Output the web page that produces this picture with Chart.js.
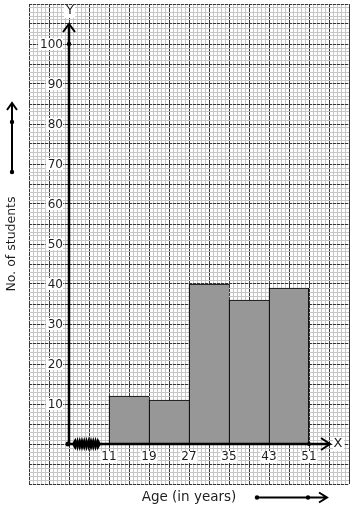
<!DOCTYPE html>
<html>
<head>
<meta charset="utf-8">
<script src="https://cdn.jsdelivr.net/npm/chart.js@4"></script>
<style>
  html, body { margin: 0; padding: 0; background: #fff; }
  #wrap { width: 354px; height: 510px; }
</style>
</head>
<body>
<div id="wrap"><canvas id="myChart"></canvas></div>
<script>
// data
const ageEdges = [11, 19, 27, 35, 43, 51];
const students = [12, 11, 40, 36, 39];
const yTickLabels = [10, 20, 30, 40, 50, 60, 70, 80, 90, 100];
const xTickLabels = [11, 19, 27, 35, 43, 51];

// graph paper range (axis units)
const X_MIN = -5, X_MAX = 59, X_ORIGIN = 3;
const Y_MIN = -10, Y_MAX = 110;

const FONT = "'DejaVu Sans', sans-serif";
const INK = "#1e1e1e";
const MINOR = "#c6c6c6";
const MAJOR = "#353535";

function paperTicks(min, max, step) {
  const out = [];
  const n = Math.round((max - min) / step);
  for (let i = 0; i <= n; i++) out.push({ value: min + i * step });
  return out;
}

// a hidden axis that only paints graph paper lines
function paperAxis(axis, min, max, step, color, dash) {
  return {
    axis: axis,
    position: axis === "x" ? "bottom" : "left",
    type: "linear",
    min: min,
    max: max,
    offset: false,
    afterBuildTicks: (s) => { s.ticks = paperTicks(min, max, step); },
    afterFit: (s) => { if (axis === "x") s.height = 0; else s.width = 0; },
    ticks: { display: false },
    border: { display: false, dash: dash || [] },
    grid: { offset: false, drawTicks: false, lineWidth: 1, color: color }
  };
}

// axes, arrows, zigzag and labels of the graph paper
const paperPlugin = {
  id: "paper",
  afterDatasetsDraw(chart) {
    const { ctx, chartArea: a, scales: { x, y } } = chart;
    const ox = x.getPixelForValue(X_ORIGIN);
    const oy = y.getPixelForValue(0);
    const yTip = y.getPixelForValue(105);
    const xTip = x.getPixelForValue(55.2);

    ctx.save();
    ctx.strokeStyle = "#000";
    ctx.fillStyle = "#000";
    ctx.lineWidth = 2.5;

    // Y axis
    ctx.beginPath();
    ctx.moveTo(ox, oy);
    ctx.lineTo(ox, yTip);
    ctx.stroke();
    // X axis
    ctx.beginPath();
    ctx.moveTo(ox, oy);
    ctx.lineTo(xTip, oy);
    ctx.stroke();

    // arrow heads
    ctx.lineWidth = 2;
    ctx.beginPath();
    ctx.moveTo(ox - 6, yTip + 8);
    ctx.lineTo(ox, yTip);
    ctx.lineTo(ox + 6, yTip + 8);
    ctx.moveTo(xTip - 9, oy - 6);
    ctx.lineTo(xTip, oy);
    ctx.lineTo(xTip - 9, oy + 6);
    ctx.stroke();

    // kink on x axis (two crossing zigzags)
    const z0 = ox + 4, z1 = ox + 31, teeth = 12;
    ctx.lineWidth = 1.8;
    [1, -1].forEach((sgn) => {
      ctx.beginPath();
      ctx.moveTo(z0, oy);
      for (let i = 1; i <= teeth; i++) {
        const zx = z0 + (z1 - z0) * i / teeth;
        ctx.lineTo(zx, i === teeth ? oy : oy + sgn * (i % 2 ? -4 : 4));
      }
      ctx.stroke();
    });

    // dots
    const dot = (px, py, r) => { ctx.beginPath(); ctx.arc(px, py, r, 0, Math.PI * 2); ctx.fill(); };
    dot(ox - 1, oy, 2.5);
    dot(ox, y.getPixelForValue(100), 2.2);
    dot(x.getPixelForValue(51), oy, 2);

    // tick labels with white backdrop
    ctx.font = "12px " + FONT;
    ctx.textBaseline = "middle";
    yTickLabels.forEach((v) => {
      const py = y.getPixelForValue(v);
      const t = String(v);
      const w = ctx.measureText(t).width;
      ctx.fillStyle = "#fff";
      ctx.fillRect(ox - 7 - w - 1, py - 6, w + 2, 12);
      ctx.fillStyle = INK;
      ctx.textAlign = "right";
      ctx.fillText(t, ox - 6, py + 0.5);
    });
    xTickLabels.forEach((v) => {
      const px = x.getPixelForValue(v);
      const t = String(v);
      const w = ctx.measureText(t).width;
      ctx.fillStyle = "#fff";
      ctx.fillRect(px - w / 2 - 1, oy + 7, w + 2, 12);
      ctx.fillStyle = INK;
      ctx.textAlign = "center";
      ctx.fillText(t, px, oy + 13);
    });

    // axis letters
    ctx.font = "13px " + FONT;
    ctx.textAlign = "center";
    ctx.fillStyle = "#fff";
    ctx.fillRect(ox - 5, a.top + 1, 11, 13);
    ctx.fillRect(xTip + 3, oy - 7, 11, 14);
    ctx.fillStyle = INK;
    ctx.fillText("Y", ox + 1, a.top + 7);
    ctx.fillText("X", xTip + 8, oy);

    // pointers beside the axis titles
    ctx.strokeStyle = "#000";
    ctx.fillStyle = "#000";
    ctx.lineWidth = 2;
    const lx = 12;
    ctx.beginPath();
    ctx.moveTo(lx, 172);
    ctx.lineTo(lx, 103);
    ctx.moveTo(lx - 5, 110);
    ctx.lineTo(lx, 103);
    ctx.lineTo(lx + 5, 110);
    ctx.stroke();
    dot(lx, 172, 2.2);
    dot(lx, 122, 2.2);

    const by = 497.5;
    ctx.beginPath();
    ctx.moveTo(257, by);
    ctx.lineTo(327, by);
    ctx.moveTo(319, by - 5);
    ctx.lineTo(327, by);
    ctx.lineTo(319, by + 5);
    ctx.stroke();
    dot(257, by, 2.2);
    dot(308, by, 2.2);

    ctx.restore();
  }
};

const bars = students.map((v, i) => ({ x: (ageEdges[i] + ageEdges[i + 1]) / 2, y: v }));

new Chart(document.getElementById("myChart"), {
  type: "bar",
  data: {
    datasets: [{
      data: bars,
      xAxisID: "x",
      yAxisID: "y",
      backgroundColor: "#979797",
      borderColor: "#000",
      borderWidth: (c) => ({ top: 1.2, left: 1.2, right: c.dataIndex === students.length - 1 ? 1.2 : 0, bottom: 0 }),
      borderSkipped: false,
      barPercentage: 1,
      categoryPercentage: 1
    }]
  },
  options: {
    responsive: true,
    maintainAspectRatio: false,
    animation: false,
    events: [],
    layout: { padding: { top: 4, right: 5, left: 0, bottom: 0 } },
    plugins: { legend: { display: false }, tooltip: { enabled: false } },
    scales: {
      xMinor: paperAxis("x", X_MIN, X_MAX, 0.8, MINOR),
      xMajor: paperAxis("x", X_MIN, X_MAX, 4, MAJOR),
      yMinor: paperAxis("y", Y_MIN, Y_MAX, 1, MINOR),
      yMajor: paperAxis("y", Y_MIN, Y_MAX, 5, MAJOR, [3, 1]),
      x: {
        type: "linear",
        position: "bottom",
        min: X_MIN,
        max: X_MAX,
        offset: false,
        afterBuildTicks: (s) => { s.ticks = ageEdges.map((v) => ({ value: v })); },
        afterFit: (s) => { s.height = 26; },
        ticks: { display: false },
        border: { display: false },
        grid: { display: false },
        title: {
          display: true,
          text: "Age (in years)",
          color: INK,
          font: { family: FONT, size: 13.5 }
        }
      },
      y: {
        position: "left",
        min: Y_MIN,
        max: Y_MAX,
        afterFit: (s) => { s.width = 29; },
        ticks: { display: false },
        border: { display: false },
        grid: { display: false },
        title: {
          display: true,
          text: "No. of students",
          color: INK,
          font: { family: FONT, size: 12.5 }
        }
      }
    }
  },
  plugins: [paperPlugin]
});
</script>
</body>
</html>
